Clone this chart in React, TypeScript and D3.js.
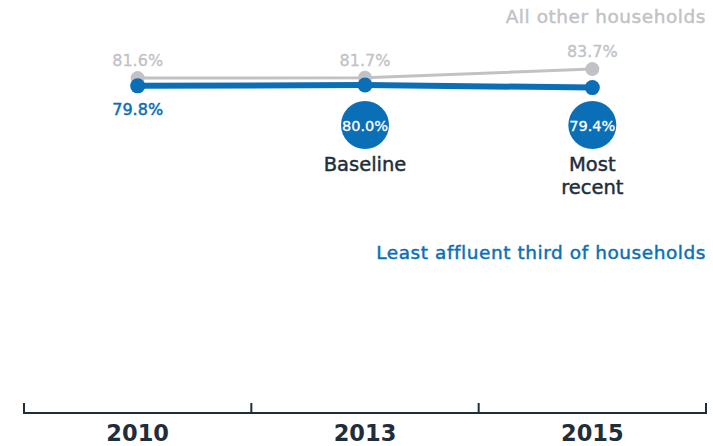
import React from "react";
import * as d3 from "d3";

const years = ["2010", "2013", "2015"];
const allOther = [81.6, 81.7, 83.7];
const leastAffluent = [79.8, 80.0, 79.4];
const highlightYears = ["2013", "2015"];
const highlightLabels = [["Baseline"], ["Most", "recent"]];

const W = 713;
const H = 446;
const BLUE = "#0a6fb7";
const GRAY = "#c2c2c6";
const DARK = "#1f2e3a";
const FONT = "'DejaVu Sans', sans-serif";

export default function App() {
  const x = d3.scaleBand<string>().domain(years).range([24, 706]);
  const cx = (d: string) => (x(d) as number) + x.bandwidth() / 2;
  const y = d3.scaleLinear().domain([0, 100]).range([429, -1]);

  const line = d3
    .line<number>()
    .x((_, i) => cx(years[i]))
    .y((v) => y(v));

  const tickXs = [...years.map((d) => x(d) as number), 706];
  const semi = (c: string, w = 0.45) => ({ stroke: c, strokeWidth: w });

  return (
    <svg width={W} height={H} style={{ position: "absolute", left: 0, top: 0 }}>
      <text x={706} y={23} textAnchor="end" fill={GRAY} {...semi(GRAY)} fontFamily={FONT} fontSize={18.5} letterSpacing={0.55}>
        All other households
      </text>
      <text x={706} y={259} textAnchor="end" fill={BLUE} {...semi(BLUE)} fontFamily={FONT} fontSize={18.5} letterSpacing={0.55}>
        Least affluent third of households
      </text>

      <path d={line(allOther) || ""} fill="none" stroke={GRAY} strokeWidth={3} />
      {allOther.map((v, i) => (
        <g key={"g" + i}>
          <circle cx={cx(years[i])} cy={y(v)} r={7} fill={GRAY} />
          <text x={cx(years[i])} y={y(v) - 12} textAnchor="middle" fill={GRAY} {...semi(GRAY, 0.35)} fontFamily={FONT} fontSize={16}>
            {v.toFixed(1)}%
          </text>
        </g>
      ))}

      <path d={line(leastAffluent) || ""} fill="none" stroke={BLUE} strokeWidth={6} />
      {leastAffluent.map((v, i) => (
        <circle key={"b" + i} cx={cx(years[i])} cy={y(v)} r={7.5} fill={BLUE} />
      ))}
      <text x={cx(years[0])} y={y(leastAffluent[0]) + 29} textAnchor="middle" fill={BLUE} {...semi(BLUE, 0.5)} fontFamily={FONT} fontSize={16}>
        {leastAffluent[0].toFixed(1)}%
      </text>

      {highlightYears.map((yr, k) => {
        const i = years.indexOf(yr);
        const px = cx(yr);
        return (
          <g key={"h" + k}>
            <circle cx={px} cy={125} r={24} fill={BLUE} />
            <text x={px} y={131} textAnchor="middle" fill="#fff" {...semi("#fff", 0.3)} fontFamily={FONT} fontSize={14.5}>
              {leastAffluent[i].toFixed(1)}%
            </text>
            {highlightLabels[k].map((s, j) => (
              <text key={j} x={px} y={171 + j * 23} textAnchor="middle" fill={DARK} {...semi(DARK, 0.45)} fontFamily={FONT} fontSize={19.5}>
                {s}
              </text>
            ))}
          </g>
        );
      })}

      <line x1={24} x2={706} y1={413} y2={413} stroke={DARK} strokeWidth={2} />
      {tickXs.map((t, i) => (
        <line key={"t" + i} x1={t} x2={t} y1={403} y2={414} stroke={DARK} strokeWidth={2} />
      ))}
      {years.map((yr) => (
        <text key={yr} x={cx(yr)} y={441} textAnchor="middle" fill={DARK} fontFamily={FONT} fontSize={22.5} fontWeight={700}>
          {yr}
        </text>
      ))}
    </svg>
  );
}
